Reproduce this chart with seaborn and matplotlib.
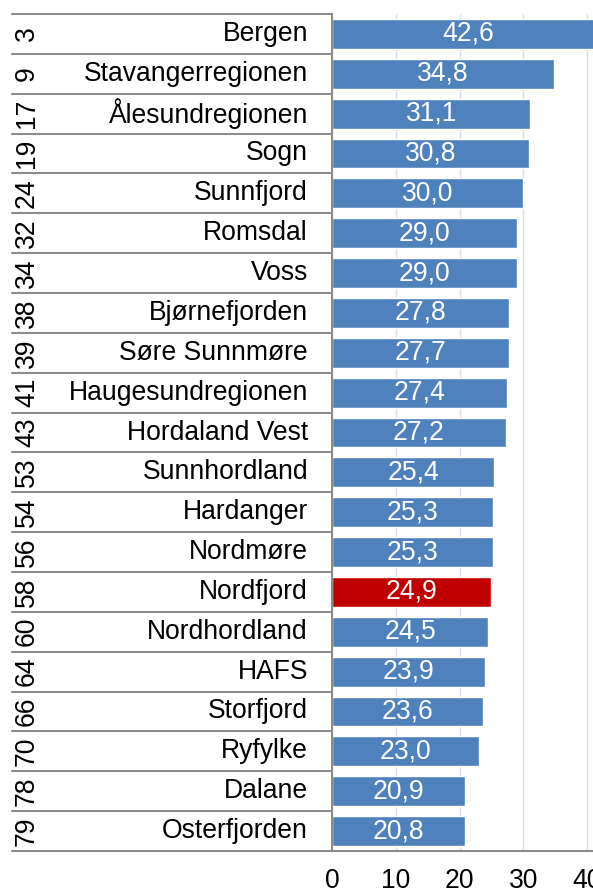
import matplotlib
matplotlib.use("Agg")
import matplotlib.pyplot as plt
import seaborn as sns
import pandas as pd

regions = ["Bergen", "Stavangerregionen", "Ålesundregionen", "Sogn", "Sunnfjord",
           "Romsdal", "Voss", "Bjørnefjorden", "Søre Sunnmøre", "Haugesundregionen",
           "Hordaland Vest", "Sunnhordland", "Hardanger", "Nordmøre", "Nordfjord",
           "Nordhordland", "HAFS", "Storfjord", "Ryfylke", "Dalane", "Osterfjorden"]
ranks = [3, 9, 17, 19, 24, 32, 34, 38, 39, 41, 43, 53, 54, 56, 58, 60, 64, 66, 70, 78, 79]
values = [42.6, 34.8, 31.1, 30.8, 30.0, 29.0, 29.0, 27.8, 27.7, 27.4, 27.2,
          25.4, 25.3, 25.3, 24.9, 24.5, 23.9, 23.6, 23.0, 20.9, 20.8]
highlight = "Nordfjord"
x_ticks = [0, 10, 20, 30, 40]

sns.set_theme(style="white")
plt.rcParams["font.family"] = ["Liberation Sans", "DejaVu Sans"]

BLUE = "#4F81BD"
RED = "#C00000"
GREY = "#8C8C8C"
FS = 19.1

df = pd.DataFrame({"region": regions, "value": values, "rank": ranks})
palette = {r: (RED if r == highlight else BLUE) for r in regions}

W, H = 593, 892
fig = plt.figure(figsize=(W / 100, H / 100), dpi=100)
ax_left, ax_right, ax_top, ax_bottom = 332, 593, 14, 851
ax = fig.add_axes([ax_left / W, (H - ax_bottom) / H,
                   (ax_right - ax_left) / W, (ax_bottom - ax_top) / H])

sns.barplot(data=df, x="value", y="region", hue="region", palette=palette,
            orient="h", width=0.75, legend=False, ax=ax, saturation=1)

ax.set_xlim(0, 40.9)
ax.set_ylim(len(regions) - 0.5, -0.5)
ax.set_xticks(x_ticks)
ax.set_xticklabels([str(t) for t in x_ticks], fontsize=FS, color="black")
ax.tick_params(axis="x", direction="inout", length=10, width=1.2, color=GREY, pad=7)
ax.set_yticks([])
ax.set_xlabel("")
ax.set_ylabel("")
ax.grid(axis="x", color="#D6E0EE", linewidth=1)
ax.set_axisbelow(True)
for side in ("top", "right"):
    ax.spines[side].set_visible(False)
for side in ("left", "bottom"):
    ax.spines[side].set_color(GREY)
    ax.spines[side].set_linewidth(1.5)

# value labels centred in each bar
for i, v in enumerate(values):
    ax.text(v / 2, i, f"{v:.1f}".replace(".", ","), color="white",
            ha="center", va="center", fontsize=FS, clip_on=False)

# table on the left: rank, region name and row separators
axw = ax_right - ax_left
trans = ax.get_yaxis_transform()
for i, (r, name) in enumerate(zip(ranks, regions)):
    ax.text(-24 / axw, i, name, ha="right", va="center", fontsize=FS,
            color="black", transform=trans)
    ax.text((27 - ax_left) / axw, i, str(r), ha="center", va="center",
            fontsize=FS, rotation=90, color="black", transform=trans)
for b in range(len(regions) + 1):
    ax.plot([(12 - ax_left) / axw, 0], [b - 0.5, b - 0.5], color=GREY,
            linewidth=1.5, transform=trans, clip_on=False)

fig.savefig("out.png", dpi=100)
